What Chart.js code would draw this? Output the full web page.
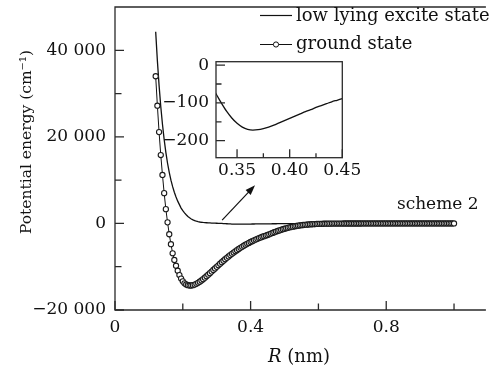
<!DOCTYPE html>
<html>
<head>
<meta charset="utf-8">
<script src="https://cdn.jsdelivr.net/npm/chart.js@4.4.0/dist/chart.umd.min.js"></script>
<style>
  body { margin: 0; background: #fff; }
  #wrap { position: relative; width: 491px; height: 367px; }
  #chart-main { position: absolute; left: 0; top: 0; }
  #chart-inset { position: absolute; left: 160px; top: 50px; }
</style>
</head>
<body>
<div id="wrap">
  <canvas id="chart-main" width="491" height="367"></canvas>
  <canvas id="chart-inset" width="210" height="130"></canvas>
</div>
<script>
// internuclear distance R (nm)
const rValues = [
  0.120, 0.125, 0.130, 0.135, 0.140, 0.145, 0.150, 0.155, 0.160, 0.165,
  0.170, 0.175, 0.180, 0.185, 0.190, 0.195, 0.200, 0.205, 0.210, 0.215,
  0.220, 0.225, 0.230, 0.235, 0.240, 0.245, 0.250, 0.255, 0.260, 0.265,
  0.270, 0.275, 0.280, 0.285, 0.290, 0.295, 0.300, 0.305, 0.310, 0.315,
  0.320, 0.325, 0.330, 0.335, 0.340, 0.345, 0.350, 0.355, 0.360, 0.365,
  0.370, 0.375, 0.380, 0.385, 0.390, 0.395, 0.400, 0.405, 0.410, 0.415,
  0.420, 0.425, 0.430, 0.435, 0.440, 0.445, 0.450, 0.455, 0.460, 0.465,
  0.470, 0.475, 0.480, 0.485, 0.490, 0.495, 0.500, 0.505, 0.510, 0.515,
  0.520, 0.525, 0.530, 0.535, 0.540, 0.545, 0.550, 0.555, 0.560, 0.565,
  0.570, 0.575, 0.580, 0.585, 0.590, 0.595, 0.600, 0.605, 0.610, 0.615,
  0.620, 0.625, 0.630, 0.635, 0.640, 0.645, 0.650, 0.655, 0.660, 0.665,
  0.670, 0.675, 0.680, 0.685, 0.690, 0.695, 0.700, 0.705, 0.710, 0.715,
  0.720, 0.725, 0.730, 0.735, 0.740, 0.745, 0.750, 0.755, 0.760, 0.765,
  0.770, 0.775, 0.780, 0.785, 0.790, 0.795, 0.800, 0.805, 0.810, 0.815,
  0.820, 0.825, 0.830, 0.835, 0.840, 0.845, 0.850, 0.855, 0.860, 0.865,
  0.870, 0.875, 0.880, 0.885, 0.890, 0.895, 0.900, 0.905, 0.910, 0.915,
  0.920, 0.925, 0.930, 0.935, 0.940, 0.945, 0.950, 0.955, 0.960, 0.965,
  0.970, 0.975, 0.980, 0.985, 0.990, 0.995, 1.000
];

// low lying excite state (cm-1)
const excitedState = [
  44300, 37600, 31900, 27000, 22900, 19400, 16400, 13900, 11800, 10000,
  8500, 7200, 6100, 5150, 4350, 3550, 2950, 2450, 2000, 1620,
  1300, 1030, 810, 640, 510, 410, 330, 270, 220, 185,
  155, 130, 110, 92, 75, 58, 42, 26, 10, -8,
  -30, -53, -76, -100, -122, -140, -154, -164, -170, -172,
  -171, -168, -164, -159, -153, -147, -141, -135, -129, -123,
  -118, -112, -107, -102, -97, -93, -89, -85, -81, -77,
  -74, -71, -68, -65, -62, -59, -57, -54, -52, -50,
  -48, -46, -44, -42, -40, -38, -37, -35, -34, -32,
  -31, -30, -28, -27, -26, -25, -24, -23, -22, -21,
  -20, -19, -18, -18, -17, -16, -16, -15, -14, -14,
  -13, -13, -12, -12, -11, -11, -10, -10, -10, -9,
  -9, -9, -8, -8, -8, -7, -7, -7, -7, -6,
  -6, -6, -6, -5, -5, -5, -5, -5, -4, -4,
  -4, -4, -4, -4, -3, -3, -3, -3, -3, -3,
  -3, -2, -2, -2, -2, -2, -2, -2, -2, -2,
  -1, -1, -1, -1, -1, -1, -1, -1, -1, -1,
  -1, -1, -1, 0, 0, 0, 0
];

// ground state (cm-1)
const groundState = [
  34000, 27200, 21100, 15800, 11200, 7000, 3300, 250, -2500, -4800,
  -6900, -8450, -9780, -10930, -11930, -12750, -13380, -13830, -14110, -14270,
  -14340, -14340, -14260, -14130, -13950, -13720, -13470, -13180, -12870, -12540,
  -12200, -11850, -11490, -11130, -10760, -10400, -10030, -9670, -9310, -8960,
  -8620, -8280, -7950, -7630, -7320, -7020, -6730, -6440, -6170, -5900,
  -5640, -5400, -5160, -4930, -4710, -4500, -4290, -4100, -3910, -3730,
  -3560, -3390, -3240, -3080, -2940, -2800, -2670, -2510, -2350, -2190,
  -2040, -1890, -1750, -1610, -1480, -1350, -1230, -1120, -1010, -910,
  -820, -740, -660, -590, -520, -460, -410, -360, -320, -280,
  -245, -215, -190, -165, -145, -125, -110, -95, -85, -75,
  -66, -58, -52, -46, -41, -37, -33, -30, -27, -25,
  -23, -21, -19, -18, -17, -16, -15, -14, -13, -12,
  -11, -11, -10, -10, -9, -9, -8, -8, -8, -7,
  -7, -7, -6, -6, -6, -6, -5, -5, -5, -5,
  -4, -4, -4, -4, -4, -3, -3, -3, -3, -3,
  -3, -2, -2, -2, -2, -2, -2, -2, -2, -1,
  -1, -1, -1, -1, -1, -1, -1, -1, -1, -1,
  0, 0, 0, 0, 0, 0, 0
];

const xTicks = [0, 0.4, 0.8];
const xMinorTicks = [0.2, 0.6, 1.0];
const yTicks = [-20000, 0, 20000, 40000];
const yMinorTicks = [-10000, 10000, 30000];

const insetXTicks = [0.35, 0.40, 0.45];
const insetXMinorTicks = [0.375, 0.425];
const insetYTicks = [-200, -100, 0];
const insetYMinorTicks = [-150, -50];

// arrow from the flat part of the excited curve to the inset, and the label
const arrowFrom = [0.316, 760];
const arrowTo = [0.413, 8830];
const schemeLabel = "scheme 2";
const schemeAt = [0.952, 3230];

const ink = "#111";
const frameColor = "#2a2a2a";
const serif = "'DejaVu Serif', serif";

function formatThousands(v) {
  const s = String(Math.abs(v)).replace(/\B(?=(\d{3})+(?!\d))/g, " ");
  return (v < 0 ? "\u2212" : "") + s;
}

const mainDecor = {
  id: "mainDecor",
  afterDraw(chart) {
    const { ctx, chartArea: a, scales: { x, y } } = chart;
    ctx.save();
    ctx.strokeStyle = frameColor;
    ctx.lineWidth = 1.3;

    // frame (left, bottom, top)
    ctx.beginPath();
    ctx.moveTo(a.right, a.top);
    ctx.lineTo(a.left, a.top);
    ctx.lineTo(a.left, a.bottom);
    ctx.lineTo(a.right, a.bottom);
    ctx.stroke();

    // inward ticks
    ctx.beginPath();
    xTicks.forEach(v => { const px = x.getPixelForValue(v); ctx.moveTo(px, a.bottom); ctx.lineTo(px, a.bottom - 9); });
    xMinorTicks.forEach(v => { const px = x.getPixelForValue(v); ctx.moveTo(px, a.bottom); ctx.lineTo(px, a.bottom - 6.5); });
    yTicks.forEach(v => { const py = y.getPixelForValue(v); ctx.moveTo(a.left, py); ctx.lineTo(a.left + 9, py); });
    yMinorTicks.forEach(v => { const py = y.getPixelForValue(v); ctx.moveTo(a.left, py); ctx.lineTo(a.left + 6.5, py); });
    ctx.stroke();

    // arrow
    const x0 = x.getPixelForValue(arrowFrom[0]), y0 = y.getPixelForValue(arrowFrom[1]);
    const x1 = x.getPixelForValue(arrowTo[0]), y1 = y.getPixelForValue(arrowTo[1]);
    const ang = Math.atan2(y1 - y0, x1 - x0);
    ctx.strokeStyle = ink;
    ctx.fillStyle = ink;
    ctx.lineWidth = 1.2;
    ctx.beginPath();
    ctx.moveTo(x0, y0);
    ctx.lineTo(x1 - 7 * Math.cos(ang), y1 - 7 * Math.sin(ang));
    ctx.stroke();
    ctx.beginPath();
    ctx.moveTo(x1, y1);
    ctx.lineTo(x1 - 10 * Math.cos(ang) + 3.5 * Math.sin(ang), y1 - 10 * Math.sin(ang) - 3.5 * Math.cos(ang));
    ctx.lineTo(x1 - 10 * Math.cos(ang) - 3.5 * Math.sin(ang), y1 - 10 * Math.sin(ang) + 3.5 * Math.cos(ang));
    ctx.closePath();
    ctx.fill();

    // scheme label
    ctx.font = "17px " + serif;
    ctx.textAlign = "center";
    ctx.textBaseline = "alphabetic";
    ctx.fillText(schemeLabel, x.getPixelForValue(schemeAt[0]), y.getPixelForValue(schemeAt[1]));

    // legend
    const [ground, excited] = chart.data.datasets;
    ctx.textAlign = "left";
    ctx.font = "18px " + serif;
    ctx.lineWidth = 1.2;
    ctx.beginPath();
    ctx.moveTo(260, 15.5);
    ctx.lineTo(292, 15.5);
    ctx.stroke();
    ctx.fillText(excited.label, 296, 20.5);
    ctx.lineWidth = 1;
    ctx.beginPath();
    ctx.moveTo(260, 44.5);
    ctx.lineTo(292, 44.5);
    ctx.stroke();
    ctx.beginPath();
    ctx.arc(276, 44.5, ground.pointRadius, 0, Math.PI * 2);
    ctx.fillStyle = "#fff";
    ctx.fill();
    ctx.stroke();
    ctx.fillStyle = ink;
    ctx.fillText(ground.label, 296, 48.5);

    // axis titles
    ctx.font = "italic 18px " + serif;
    const wR = ctx.measureText("R").width;
    ctx.font = "18px " + serif;
    const wRest = ctx.measureText(" (nm)").width;
    const xs = 299 - (wR + wRest) / 2;
    ctx.font = "italic 18px " + serif;
    ctx.fillText("R", xs, 362);
    ctx.font = "18px " + serif;
    ctx.fillText(" (nm)", xs + wR, 362);

    ctx.font = "15.5px " + serif;
    ctx.translate(27, 142);
    ctx.rotate(-Math.PI / 2);
    ctx.textAlign = "center";
    ctx.textBaseline = "middle";
    ctx.fillText("Potential energy (cm\u207B\u00B9)", 0, 0);
    ctx.restore();
  }
};

function renderMainChart() {
  const config = {
    type: "line",
    data: {
      labels: rValues,
      datasets: [
        {
          label: "ground state",
          data: groundState,
          borderColor: ink,
          borderWidth: 1,
          pointRadius: 2.6,
          pointBorderWidth: 1.1,
          pointBorderColor: "#1a1a1a",
          pointBackgroundColor: "#fff",
          order: 1,
        },
        {
          label: "low lying excite state",
          data: excitedState,
          borderColor: ink,
          borderWidth: 1.3,
          pointRadius: 0,
          order: 2,
        },
      ],
    },
    options: {
      responsive: false,
      animation: false,
      devicePixelRatio: 1,
      layout: { padding: { top: 7, left: 0, right: 0, bottom: 0 } },
      plugins: { legend: { display: false }, tooltip: { enabled: false } },
      scales: {
        x: {
          type: "linear",
          min: 0,
          max: 1.094,
          grid: { display: false, drawTicks: false },
          border: { display: false },
          afterBuildTicks: s => { s.ticks = xTicks.map(v => ({ value: v })); },
          afterFit: s => { s.height = 57; s.paddingLeft = 0; s.paddingRight = 0; },
          ticks: {
            padding: 7,
            autoSkip: false,
            maxRotation: 0,
            color: ink,
            font: { family: serif, size: 17 },
            callback: v => String(v),
          },
        },
        y: {
          min: -20000,
          max: 50000,
          grid: { display: false, drawTicks: false },
          border: { display: false },
          afterBuildTicks: s => { s.ticks = yTicks.map(v => ({ value: v })); },
          afterFit: s => { s.width = 115; s.paddingTop = 0; s.paddingBottom = 0; },
          ticks: {
            padding: 9,
            color: ink,
            font: { family: serif, size: 17 },
            callback: v => formatThousands(v),
          },
        },
      },
    },
    plugins: [mainDecor],
  };

  const myChart = new Chart(document.getElementById("chart-main"), config);
}

const insetDecor = {
  id: "insetDecor",
  beforeDatasetsDraw(chart) {
    const { ctx, chartArea: a } = chart;
    ctx.save();
    ctx.fillStyle = "#fff";
    ctx.fillRect(a.left, a.top, a.right - a.left, a.bottom - a.top);
    ctx.restore();
  },
  afterDraw(chart) {
    const { ctx, chartArea: a, scales: { x, y } } = chart;
    ctx.save();
    ctx.strokeStyle = frameColor;
    ctx.lineWidth = 1.3;
    ctx.strokeRect(a.left, a.top, a.right - a.left, a.bottom - a.top);
    ctx.beginPath();
    insetXTicks.forEach(v => { const px = x.getPixelForValue(v); ctx.moveTo(px, a.bottom); ctx.lineTo(px, a.bottom - 8.5); });
    insetXMinorTicks.forEach(v => { const px = x.getPixelForValue(v); ctx.moveTo(px, a.bottom); ctx.lineTo(px, a.bottom - 4.5); });
    insetYTicks.forEach(v => { const py = y.getPixelForValue(v); ctx.moveTo(a.left, py); ctx.lineTo(a.left + 9, py); });
    insetYMinorTicks.forEach(v => { const py = y.getPixelForValue(v); ctx.moveTo(a.left, py); ctx.lineTo(a.left + 5.5, py); });
    ctx.stroke();
    ctx.restore();
  }
};

function renderInsetChart() {
  const config = {
    type: "line",
    data: {
      labels: rValues,
      datasets: [
        {
          label: "low lying excite state",
          data: excitedState,
          borderColor: ink,
          borderWidth: 1.3,
          pointRadius: 0,
          cubicInterpolationMode: "monotone",
        },
      ],
    },
    options: {
      responsive: false,
      animation: false,
      devicePixelRatio: 1,
      layout: { padding: { top: 11.7, left: 0, right: 27.7, bottom: 0 } },
      plugins: { legend: { display: false }, tooltip: { enabled: false } },
      scales: {
        x: {
          type: "linear",
          min: 0.33,
          max: 0.45,
          grid: { display: false, drawTicks: false },
          border: { display: false },
          afterBuildTicks: s => { s.ticks = insetXTicks.map(v => ({ value: v })); },
          afterFit: s => { s.height = 22.3; s.paddingLeft = 0; s.paddingRight = 0; },
          ticks: {
            padding: 3,
            autoSkip: false,
            maxRotation: 0,
            color: ink,
            font: { family: serif, size: 17 },
            callback: v => v.toFixed(2),
          },
        },
        y: {
          min: -245,
          max: 9,
          grid: { display: false, drawTicks: false },
          border: { display: false },
          afterBuildTicks: s => { s.ticks = insetYTicks.map(v => ({ value: v })); },
          afterFit: s => { s.width = 56; s.paddingTop = 0; s.paddingBottom = 0; },
          ticks: {
            padding: 7,
            color: ink,
            font: { family: serif, size: 17 },
            callback: v => formatThousands(v),
          },
        },
      },
    },
    plugins: [insetDecor],
  };

  const myChart = new Chart(document.getElementById("chart-inset"), config);
}

renderMainChart();
renderInsetChart();
</script>
</body>
</html>
